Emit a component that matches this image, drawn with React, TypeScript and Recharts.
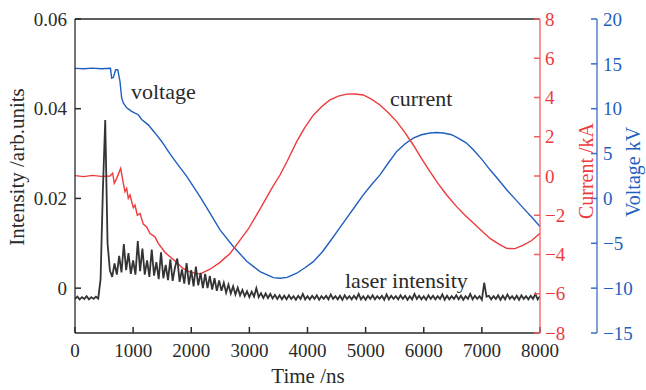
import { Line, LineChart, ReferenceLine, XAxis, YAxis } from "recharts";

const FONT = "'Liberation Serif', 'Times New Roman', serif";
const INK = "#2a2a2a";
const LASER = "#343434";
const RED = "#ee3a3d";
const RED_AXIS = "#f25e5e";
const BLUE = "#1f5fbf";
const BLUE_AXIS = "#3a6fc2";

const timeTicks = [0, 1000, 2000, 3000, 4000, 5000, 6000, 7000, 8000];
const intensityTicks = [0, 0.02, 0.04, 0.06];
const currentTicks = [-8, -6, -4, -2, 0, 2, 4, 6, 8];
const voltageTicks = [-15, -10, -5, 0, 5, 10, 15, 20];

// voltage trace, kV (time in ns)
const voltageT = [
  0, 150, 300, 450, 610, 631, 660, 700, 735, 774, 803, 831, 889, 975, 1032,
  1089, 1147, 1261, 1376, 1492, 1620, 1750, 1922, 2150, 2320, 2495, 2723,
  2954, 3183, 3412, 3527, 3650, 3814, 3950, 4100, 4250, 4387, 4530, 4674,
  4817, 4960, 5104, 5247, 5390, 5535, 5680, 5820, 5960, 6107, 6220, 6336,
  6480, 6600, 6730, 6853, 7000, 7140, 7290, 7427, 7570, 7713, 7860, 8000,
];
const voltageKV = [
  14.5, 14.45, 14.52, 14.46, 14.5, 13.4, 13.5, 14.35, 14.35, 13.05, 11.2,
  10.65, 10.1, 9.7, 9.5, 9.33, 8.8, 8.2, 7.3, 6.35, 5.1, 3.94, 2.45, 0.2, -1.6,
  -3.5, -5.35, -7.0, -8.16, -8.83, -8.9, -8.8, -8.34, -7.75, -7.05, -6.0, -4.8,
  -3.5, -2.2, -0.9, 0.4, 1.55, 2.63, 3.95, 5.24, 6.1, 6.73, 7.1, 7.29, 7.35,
  7.29, 7.1, 6.7, 6.2, 5.43, 4.35, 3.19, 2.05, 0.96, -0.05, -1.08, -2.1, -3.14,
];

// current trace, kA
const currentT = [
  0, 150, 300, 450, 602, 648, 676, 717, 786, 831, 860, 889, 917, 946, 1003,
  1032, 1072, 1118, 1175, 1233, 1290, 1376, 1433, 1550, 1650, 1750, 1850,
  1980, 2150, 2323, 2495, 2667, 2782, 2982, 3200, 3400, 3527, 3650, 3814,
  3950, 4100, 4250, 4387, 4530, 4674, 4820, 4960, 5100, 5247, 5390, 5535,
  5680, 5820, 5960, 6107, 6250, 6394, 6566, 6710, 6853, 7000, 7140, 7300,
  7427, 7570, 7713, 7850, 8000,
];
const currentKA = [
  0.02, -0.03, 0.03, -0.02, 0.0, 0.14, -0.37, -0.12, 0.39, -0.37, -0.8, -0.63,
  -1.14, -0.97, -1.62, -1.48, -2.0, -1.9, -2.45, -2.6, -2.93, -3.1, -3.43,
  -3.9, -4.15, -4.4, -4.7, -4.9, -5.0, -4.75, -4.4, -3.95, -3.5, -2.7, -1.6,
  -0.55, 0.05, 0.75, 1.75, 2.45, 3.1, 3.55, 3.88, 4.07, 4.17, 4.18, 4.13,
  3.92, 3.62, 3.22, 2.77, 2.2, 1.58, 0.9, 0.22, -0.4, -0.97, -1.56, -2.0,
  -2.4, -2.8, -3.18, -3.48, -3.69, -3.7, -3.52, -3.3, -2.92,
];

// laser intensity, sampled every 40 ns
const laserStepNs = 40;
const laserEarly = [
  -0.0024, -0.0019, -0.0025, -0.002, -0.0024, -0.0018, -0.0025, -0.002,
  -0.0024, -0.0019, -0.0023, 0.002, 0.022, 0.0375, 0.01, 0.004, 0.0025,
  0.0055, 0.003, 0.0072, 0.0035, 0.0098, 0.004, 0.0078, 0.0032, 0.0062,
  0.003, 0.0105, 0.0038, 0.0088, 0.003, 0.0062, 0.0025, 0.0086, 0.0028,
  0.0058, 0.002, 0.008, 0.0022, 0.0052, 0.0018, 0.0064, 0.0016, 0.0046,
  0.0066, 0.0014, 0.0042, 0.001, 0.0056, 0.0008, 0.004, 0.0004, 0.0048,
  0.0006, 0.0034, 0.0, 0.0032, 0.0, 0.0027, -0.0003, 0.0022, -0.0006, 0.0017,
  -0.0006, 0.0012, -0.001, 0.0008, -0.0012, 0.0004, -0.0014, 0.0001, -0.0016,
  -0.0004, -0.0018, -0.0007, -0.002, -0.0008, -0.0019, 0.0, -0.002, -0.0011,
  -0.0022, -0.0012, -0.0022, -0.0013, -0.0023, -0.0015, -0.0024, -0.0016,
  -0.0025,
];
const laserTail = [
  -0.0017, -0.0025, -0.0016, -0.0024, -0.0018, -0.0026, -0.0017, -0.0024, -0.0013, -0.0025,
  -0.0018, -0.0025, -0.0017, -0.0024, -0.0016, -0.0026, -0.0018, -0.0024, -0.0017, -0.0025,
  -0.0014, -0.0024, -0.0018, -0.0025, -0.0017, -0.0026, -0.0016, -0.0024, -0.0018, -0.0025,
  -0.0017, -0.0024, -0.0013, -0.0025, -0.0018, -0.0026, -0.0017, -0.0024, -0.0016, -0.0025,
  -0.0018, -0.0024, -0.0017, -0.0026, -0.0014, -0.0025, -0.0017, -0.0024, -0.0018, -0.0025,
  -0.0016, -0.0024, -0.0017, -0.0026, -0.0018, -0.0025, -0.0013, -0.0024, -0.0017, -0.0025,
  -0.0018, -0.0026, -0.0016, -0.0024, -0.0017, -0.0025, -0.0018, -0.0024, -0.0014, -0.0026,
  -0.0017, -0.0025, -0.0018, -0.0024, -0.0016, -0.0025, -0.0017, -0.0026, -0.0018, -0.0024,
  -0.0013, -0.0025, -0.0017, -0.0024, -0.0018, -0.0026, 0.0012, -0.0019, -0.0017, -0.0025,
  -0.0018, -0.0024, -0.0016, -0.0026, -0.0017, -0.0025, -0.0014, -0.0024, -0.0018, -0.0025,
  -0.0017, -0.0026, -0.0016, -0.0024, -0.0018, -0.0025, -0.0017, -0.0024, -0.0013, -0.0025,
  -0.0018,
];

const voltageData = voltageT.map((t, i) => ({ t, v: voltageKV[i] }));
const currentData = currentT.map((t, i) => ({ t, v: currentKA[i] }));
const laserData = [...laserEarly, ...laserTail].map((v, i) => ({ t: i * laserStepNs, v }));

const minus = (n: number) => (n < 0 ? "\u2212" + Math.abs(n) : String(n));
const tickText = (fill: string) => ({
  fill,
  fontSize: 19,
  fontFamily: FONT,
  style: { fontFamily: FONT },
});

export default function App() {
  return (
    <div style={{ position: "absolute", left: 0, top: 0, width: 646, height: 390, background: "#fff" }}>
      {/* negative tickSize turns the tick marks inward */}
      <LineChart width={646} height={390} margin={{ top: 19, right: 0, bottom: 0, left: 0 }}>
        <XAxis
          dataKey="t"
          type="number"
          domain={[0, 8000]}
          ticks={timeTicks}
          interval={0}
          height={57}
          tickSize={-6}
          tickMargin={17}
          tickLine={{ stroke: INK, strokeWidth: 1.5 }}
          tick={tickText(INK)}
          axisLine={{ stroke: INK, strokeWidth: 1.3 }}
          allowDataOverflow
        />
        <YAxis
          yAxisId="intensity"
          domain={[-0.01, 0.06]}
          ticks={intensityTicks}
          interval={0}
          width={75}
          tickSize={-6}
          tickMargin={14}
          tickLine={{ stroke: INK, strokeWidth: 1.5 }}
          tick={tickText(INK)}
          tickFormatter={(v: number) => (v === 0 ? "0" : v.toFixed(2))}
          axisLine={{ stroke: INK, strokeWidth: 1.3 }}
          allowDataOverflow
        />
        <YAxis
          yAxisId="current"
          orientation="right"
          domain={[-8, 8]}
          ticks={currentTicks}
          interval={0}
          width={57}
          tickSize={-6}
          tickMargin={11}
          tickLine={{ stroke: RED_AXIS, strokeWidth: 1.5 }}
          tick={tickText(RED)}
          tickFormatter={minus}
          axisLine={{ stroke: RED_AXIS, strokeWidth: 1.3 }}
          allowDataOverflow
        />
        <YAxis
          yAxisId="voltage"
          orientation="right"
          domain={[-15, 20]}
          ticks={voltageTicks}
          interval={0}
          width={49}
          tickSize={-6}
          tickMargin={12}
          tickLine={{ stroke: BLUE_AXIS, strokeWidth: 1.5 }}
          tick={tickText(BLUE)}
          tickFormatter={minus}
          axisLine={{ stroke: BLUE_AXIS, strokeWidth: 1.3 }}
          allowDataOverflow
        />
        <ReferenceLine yAxisId="intensity" y={0.06} stroke={INK} strokeWidth={1.3} />
        <Line
          yAxisId="voltage"
          data={voltageData}
          dataKey="v"
          type="linear"
          stroke={BLUE}
          strokeWidth={1.4}
          dot={false}
          activeDot={false}
          isAnimationActive={false}
        />
        <Line
          yAxisId="current"
          data={currentData}
          dataKey="v"
          type="linear"
          stroke={RED}
          strokeWidth={1.4}
          dot={false}
          activeDot={false}
          isAnimationActive={false}
        />
        <Line
          yAxisId="intensity"
          data={laserData}
          dataKey="v"
          type="linear"
          stroke={LASER}
          strokeWidth={1.8}
          dot={false}
          activeDot={false}
          isAnimationActive={false}
        />
      </LineChart>
      <svg
        width={646}
        height={390}
        style={{ position: "absolute", left: 0, top: 0, pointerEvents: "none", fontFamily: FONT }}
      >
        <text x={24} y={167} transform="rotate(-90 24 167)" textAnchor="middle" fontSize={21} fill={INK}>
          Intensity /arb.units
        </text>
        <text x={308} y={383} textAnchor="middle" fontSize={21} fill={INK}>
          Time /ns
        </text>
        <text x={593} y={171} transform="rotate(-90 593 171)" textAnchor="middle" fontSize={20} fill={RED}>
          Current /kA
        </text>
        <text x={640} y={172} transform="rotate(-90 640 172)" textAnchor="middle" fontSize={20} fill={BLUE}>
          Voltage kV
        </text>
        <text x={131} y={99} fontSize={22} fill={INK}>voltage</text>
        <text x={390} y={106} fontSize={22} fill={INK}>current</text>
        <text x={345} y={288} fontSize={22} fill={INK}>laser intensity</text>
      </svg>
    </div>
  );
}
